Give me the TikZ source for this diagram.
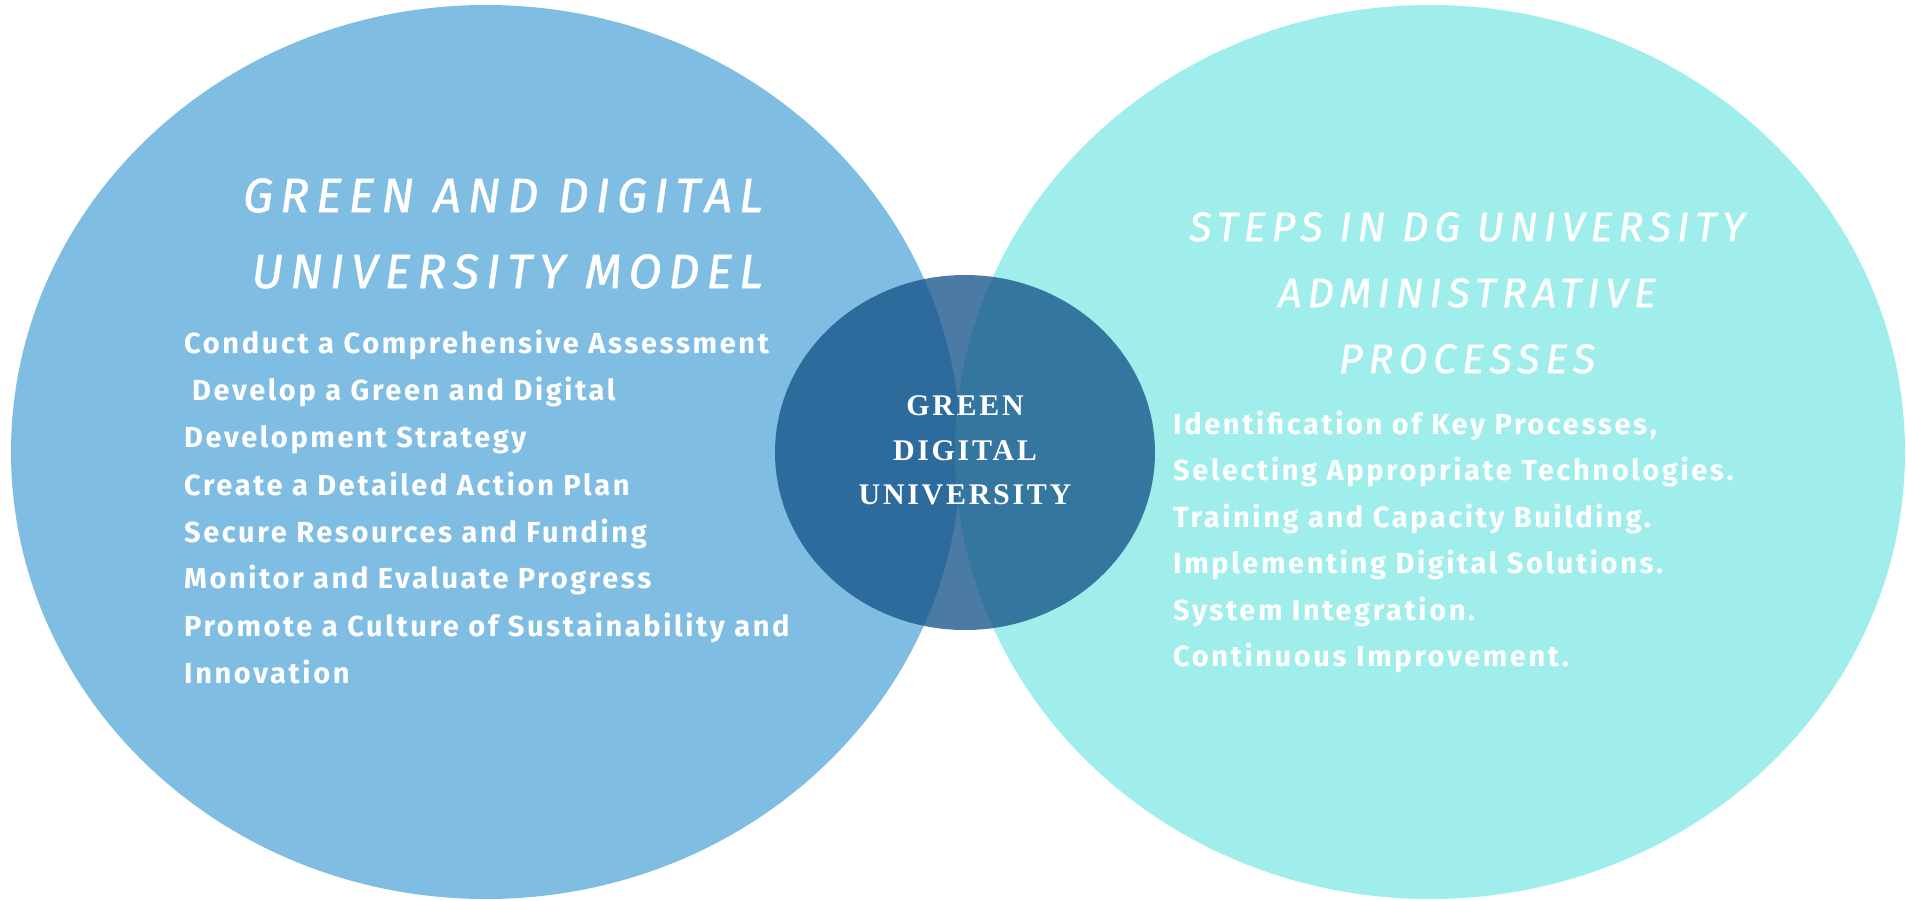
\documentclass[tikz,border=0pt]{standalone}
\usepackage{fontspec}
\setmainfont{Fira Sans}
\IfFontExistsTF{FiraSans-MediumItalic.otf}
  {\newfontfamily\headfontX[LetterSpace=15]{FiraSans-MediumItalic.otf}\newcommand\headfont{\headfontX}}
  {\newfontfamily\headfontX[LetterSpace=15,FakeBold=1.2]{Fira Sans}\newcommand\headfont{\headfontX\itshape}}
\IfFontExistsTF{FiraSans-SemiBold.otf}
  {\newfontfamily\bodyfontX[LetterSpace=10]{FiraSans-SemiBold.otf}\newcommand\bodyfont{\bodyfontX}}
  {\newfontfamily\bodyfontX[LetterSpace=9]{Fira Sans}\newcommand\bodyfont{\bodyfontX\bfseries}}
\newfontfamily\centerfont[LetterSpace=9]{Liberation Serif}
\definecolor{leftblue}{RGB}{128,189,227}
\definecolor{rightcyan}{RGB}{160,238,236}
\definecolor{centerblue}{RGB}{24,85,138}
\tikzset{
  headtxt/.style={inner sep=0pt, text=white, font=\headfont\fontsize{48}{52}\selectfont},
  headtxtr/.style={inner sep=0pt, text=white, font=\headfont\fontsize{41}{45}\selectfont},
  bodytxt/.style={inner sep=0pt, text=white, anchor=base west, font=\bodyfont\fontsize{29}{32}\selectfont},
  centertxt/.style={inner sep=0pt, text=white, anchor=base, font=\centerfont\bfseries\fontsize{30}{34}\selectfont},
}
\begin{document}
\begin{tikzpicture}[x=1pt,y=-1pt]
\useasboundingbox (0,0) rectangle (1906,900);
% circles
\path[fill=leftblue] (486,452) ellipse [x radius=475, y radius=447];
\path[fill=rightcyan] (1430,452) ellipse [x radius=475, y radius=447];
\path[fill=centerblue, fill opacity=0.78] (965,452.5) ellipse [x radius=190, y radius=177.5];
% left heading
\node[headtxt, anchor=base east] (lh1) at (763,212) {GREEN AND DIGITAL};
\node[headtxt, anchor=base east] (lh2) at (763,288) {UNIVERSITY MODEL};
% left body
\node[bodytxt] (l1) at (184,353) {Conduct a Comprehensive Assessment};
\node[bodytxt] (l2) at (192,400) {Develop a Green and Digital};
\node[bodytxt] (l3) at (184,447) {Development Strategy};
\node[bodytxt] (l4) at (184,495) {Create a Detailed Action Plan};
\node[bodytxt] (l5) at (184,542) {Secure Resources and Funding};
\node[bodytxt] (l6) at (184,588) {Monitor and Evaluate Progress};
\node[bodytxt] (l7) at (184,636) {Promote a Culture of Sustainability and};
\node[bodytxt] (l8) at (184,683) {Innovation};
% right heading
\node[headtxtr, anchor=base] (rh1) at (1467,241) {STEPS IN DG UNIVERSITY};
\node[headtxtr, anchor=base] (rh2) at (1467,307) {ADMINISTRATIVE};
\node[headtxtr, anchor=base] (rh3) at (1467,373) {PROCESSES};
% right body
\node[bodytxt] (r1) at (1173,434) {Identification of Key Processes,};
\node[bodytxt] (r2) at (1173,480.5) {Selecting Appropriate Technologies.};
\node[bodytxt] (r3) at (1173,527) {Training and Capacity Building.};
\node[bodytxt] (r4) at (1173,573.5) {Implementing Digital Solutions.};
\node[bodytxt] (r5) at (1173,620) {System Integration.};
\node[bodytxt] (r6) at (1173,666.5) {Continuous Improvement.};
% center
\node[centertxt] (c1) at (965,415) {GREEN};
\node[centertxt] (c2) at (965,460) {DIGITAL};
\node[centertxt] (c3) at (965,504) {UNIVERSITY};
\end{tikzpicture}
\end{document}
